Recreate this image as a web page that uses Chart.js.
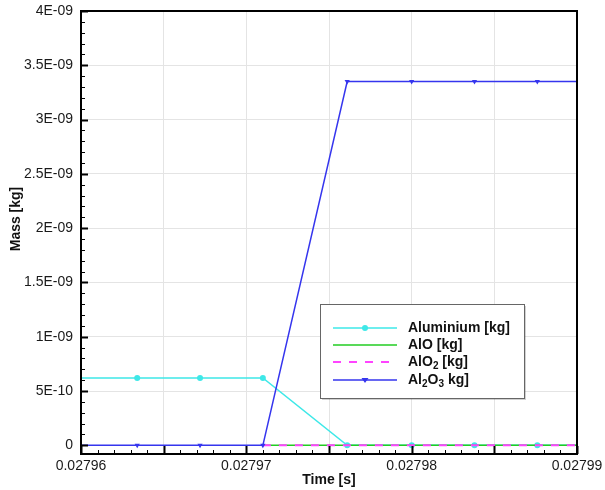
<!DOCTYPE html>
<html>
<head>
<meta charset="utf-8">
<script src="https://cdn.jsdelivr.net/npm/chart.js@4/dist/chart.umd.min.js"></script>
<style>
  body { margin: 0; background: #fff; }
  #wrap { width: 605px; height: 490px; }
</style>
</head>
<body>
<div id="wrap"><canvas id="chart" width="605" height="490"></canvas></div>
<script>
// Datos
const time = [0.0279596, 0.0279634, 0.0279672, 0.027971, 0.0279761, 0.02798, 0.0279838, 0.0279876, 0.0279914];
const aluminium = [6.2e-10, 6.2e-10, 6.2e-10, 6.2e-10, 0, 0, 0, 0, 0];
const alo = [null, null, null, 0, 0, 0, 0, 0, 0];
const alo2 = [null, null, null, 0, 0, 0, 0, 0, 0];
const al2o3 = [0, 0, 0, 0, 3.35e-9, 3.35e-9, 3.35e-9, 3.35e-9, 3.35e-9];

const xGridTicks = [0.02796, 0.027965, 0.02797, 0.027975, 0.02798, 0.027985, 0.02799];
const xLabelTicks = [0.02796, 0.02797, 0.02798, 0.02799];
const yTicks = [0, 5e-10, 1e-9, 1.5e-9, 2e-9, 2.5e-9, 3e-9, 3.5e-9, 4e-9];

const FONT = "'Liberation Sans', Arial, sans-serif";
Chart.defaults.font.family = FONT;
Chart.defaults.color = '#1a1a1a';

function pts(ys) {
  return time.map((t, i) => ({ x: t, y: ys[i] }));
}

function fmtE(v) {
  if (Math.abs(v) < 1e-20) return '0';
  const e = Math.floor(Math.log10(Math.abs(v)) + 1e-9);
  const m = Math.round(v / Math.pow(10, e) * 100) / 100;
  const ae = Math.abs(e);
  return m + 'E' + (e < 0 ? '-' : '+') + (ae < 10 ? '0' + ae : ae);
}

// marcas interiores, marco, titulos y leyenda
const framePlugin = {
  id: 'frame',
  afterDraw(chart) {
    const { ctx, chartArea: a, scales } = chart;
    const xs = scales.x, ys = scales.y;
    ctx.save();
    ctx.strokeStyle = '#000';
    // ticks eje x
    for (let i = 0; i <= 30; i++) {
      const v = 0.02796 + i * 1e-6;
      const px = Math.round(xs.getPixelForValue(v)) + 0.5;
      const len = i % 5 === 0 ? 8 : 4;
      ctx.lineWidth = i % 5 === 0 ? 2 : 1;
      ctx.beginPath();
      ctx.moveTo(px, a.bottom);
      ctx.lineTo(px, a.bottom - len);
      ctx.stroke();
    }
    // ticks eje y
    for (let i = 0; i <= 40; i++) {
      const v = i * 1e-10;
      const py = Math.round(ys.getPixelForValue(v)) + 0.5;
      const len = i % 5 === 0 ? 7 : 4;
      ctx.lineWidth = i % 5 === 0 ? 2 : 1;
      ctx.beginPath();
      ctx.moveTo(a.left, py);
      ctx.lineTo(a.left + len, py);
      ctx.stroke();
    }
    // marco
    ctx.lineWidth = 2;
    ctx.strokeRect(a.left, a.top, a.right - a.left, a.bottom - a.top);

    // titulos de ejes
    ctx.fillStyle = '#111';
    ctx.font = 'bold 14px ' + FONT;
    ctx.textAlign = 'center';
    ctx.textBaseline = 'middle';
    ctx.fillText('Time [s]', (a.left + a.right) / 2, 480);
    ctx.save();
    ctx.translate(16, 219);
    ctx.rotate(-Math.PI / 2);
    ctx.fillText('Mass [kg]', 0, 0);
    ctx.restore();

    // leyenda
    const bx = 320, by = 304, bw = 204, bh = 94;
    ctx.fillStyle = 'rgba(0,0,0,0.18)';
    ctx.fillRect(bx + 2, by + 2, bw, bh);
    ctx.fillStyle = '#fff';
    ctx.fillRect(bx, by, bw, bh);
    ctx.lineWidth = 1;
    ctx.strokeStyle = '#666';
    ctx.strokeRect(bx + 0.5, by + 0.5, bw, bh);

    const rows = [
      { y: 328, ds: 0, parts: [['Aluminium [kg]', false]] },
      { y: 345, ds: 1, parts: [['AlO [kg]', false]] },
      { y: 362, ds: 2, parts: [['AlO', false], ['2', true], [' [kg]', false]] },
      { y: 380, ds: 3, parts: [['Al', false], ['2', true], ['O', false], ['3', true], [' kg]', false]] }
    ];
    rows.forEach(r => {
      const d = chart.data.datasets[r.ds];
      ctx.save();
      ctx.strokeStyle = d.borderColor;
      ctx.lineWidth = d.borderWidth;
      ctx.setLineDash(d.borderDash || []);
      ctx.beginPath();
      ctx.moveTo(333, r.y);
      ctx.lineTo(397, r.y);
      ctx.stroke();
      ctx.restore();
      if (d.pointRadius > 0) {
        ctx.fillStyle = d.pointBackgroundColor;
        ctx.beginPath();
        if (d.pointStyle === 'circle') {
          ctx.arc(365, r.y, d.pointRadius, 0, Math.PI * 2);
        } else {
          ctx.moveTo(365 - 3.5, r.y - 2);
          ctx.lineTo(365 + 3.5, r.y - 2);
          ctx.lineTo(365, r.y + 3);
          ctx.closePath();
        }
        ctx.fill();
      }
      let x = 408;
      ctx.fillStyle = '#111';
      ctx.textAlign = 'left';
      ctx.textBaseline = 'middle';
      r.parts.forEach(([t, sub]) => {
        ctx.font = (sub ? 'bold 10px ' : 'bold 14px ') + FONT;
        ctx.fillText(t, x, sub ? r.y + 4 : r.y);
        x += ctx.measureText(t).width;
      });
    });
    ctx.restore();
  }
};

new Chart(document.getElementById('chart'), {
  type: 'line',
  data: {
    datasets: [
      {
        label: 'Aluminium [kg]', data: pts(aluminium), order: 4,
        borderColor: '#3ee8e8', backgroundColor: '#3ee8e8', pointBackgroundColor: '#3ee8e8',
        borderWidth: 1.5, pointStyle: 'circle', pointRadius: 3, pointBorderWidth: 0
      },
      {
        label: 'AlO [kg]', data: pts(alo), order: 3,
        borderColor: '#22cc22', backgroundColor: '#22cc22',
        borderWidth: 1.5, pointRadius: 0
      },
      {
        label: 'AlO₂ [kg]', data: pts(alo2), order: 2,
        borderColor: '#ff44ff', backgroundColor: '#ff44ff',
        borderWidth: 2, borderDash: [8, 8], pointRadius: 0
      },
      {
        label: 'Al₂O₃ kg]', data: pts(al2o3), order: 1,
        borderColor: '#3535ee', backgroundColor: '#3535ee', pointBackgroundColor: '#3535ee',
        borderWidth: 1.5, pointStyle: 'triangle', pointRotation: 180, pointRadius: 3, pointBorderWidth: 0
      }
    ]
  },
  options: {
    responsive: false,
    devicePixelRatio: 1,
    animation: false,
    spanGaps: false,
    layout: { padding: { top: 11, right: 28, left: 0, bottom: 0 } },
    plugins: { legend: { display: false }, tooltip: { enabled: false } },
    scales: {
      x: {
        type: 'linear', min: 0.02796, max: 0.02799,
        afterFit: s => { s.height = 36; s.paddingLeft = 0; s.paddingRight = 0; },
        afterBuildTicks: s => { s.ticks = xGridTicks.map(v => ({ value: v })); },
        border: { display: false },
        grid: { color: '#e4e4e4', drawTicks: false },
        ticks: {
          padding: 4, maxRotation: 0, autoSkip: false,
          font: { size: 14 },
          callback: v => xLabelTicks.some(t => Math.abs(t - v) < 1e-9) ? v.toFixed(5) : ''
        }
      },
      y: {
        type: 'linear', min: -8e-11, max: 4e-9,
        afterFit: s => { s.width = 81; s.paddingTop = 0; s.paddingBottom = 0; },
        afterBuildTicks: s => { s.ticks = yTicks.map(v => ({ value: v })); },
        border: { display: false },
        grid: { color: '#e4e4e4', drawTicks: false },
        ticks: { padding: 8, autoSkip: false, font: { size: 14 }, callback: v => fmtE(v) }
      }
    }
  },
  plugins: [framePlugin]
});
</script>
</body>
</html>
